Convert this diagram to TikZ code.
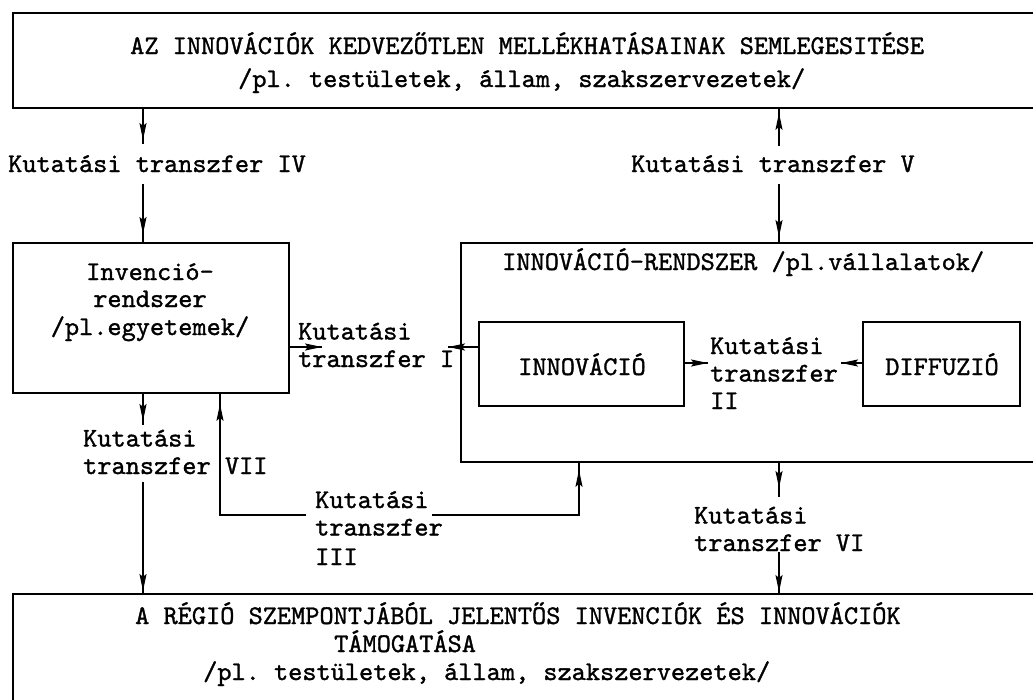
\documentclass[tikz,border=0pt]{standalone}
\usepackage{fontspec}
\setmonofont{lmmono10-regular}[Extension=.otf, FakeBold=1.2]
\usetikzlibrary{arrows.meta,decorations.markings}
\newcommand\fsz{\ttfamily\fontsize{27}{27.5}\selectfont}
\tikzset{
  box/.style={draw, line width=1.8pt, rectangle, inner sep=0pt, anchor=north west},
  txt/.style={font=\fsz, inner sep=0pt, anchor=base west, align=left},
  ctxt/.style={font=\fsz, inner sep=0pt, anchor=base},
  conn/.style={line width=1.8pt},
  mk/.style={postaction={decorate}, decoration={markings,
      mark=at position #1 with {\arrow{Stealth[length=17pt,width=7pt,inset=3pt]}}}},
}
\begin{document}
\begin{tikzpicture}[x=1pt,y=-1pt]
\useasboundingbox (0,0) rectangle (1033,699);
\clip (0,0) rectangle (1033,699);
\fill[white] (0,0) rectangle (1033,699);

% boxes
\node[box, minimum width=1040pt, minimum height=95pt] (top) at (12,12) {};
\node[box, minimum width=276pt, minimum height=150pt] (inv) at (12,242) {};
\node[box, minimum width=600pt, minimum height=219pt] (isys) at (460,242) {};
\node[box, minimum width=205pt, minimum height=84pt] (innov) at (478,321) {};
\node[box, minimum width=157pt, minimum height=84pt] (diff) at (862,321) {};
\node[box, minimum width=1040pt, minimum height=130pt] (bot) at (12,593) {};

% box texts
\node[txt] (topA) at (130,54) {AZ INNOVÁCIÓK KEDVEZŐTLEN MELLÉKHATÁSAINAK SEMLEGESITÉSE};
\node[txt] (topB) at (238,87) {/pl. testületek, állam, szakszervezetek/};
\node[ctxt] (invA) at (150,280) {Invenció-};
\node[ctxt] (invB) at (150,307) {rendszer};
\node[ctxt] (invC) at (150,335) {/pl.egyetemek/};
\node[txt] (isysT) at (502,270) {INNOVÁCIÓ-RENDSZER /pl.vállalatok/};
\node[ctxt] (innovT) at (582,375) {INNOVÁCIÓ};
\node[ctxt] (diffT) at (942,375) {DIFFUZIÓ};
\node[txt] (botA) at (135,624) {A RÉGIÓ SZEMPONTJÁBÓL JELENTŐS INVENCIÓK ÉS INNOVÁCIÓK};
\node[txt] (botB) at (334,652) {TÁMOGATÁSA};
\node[txt] (botC) at (203,680) {/pl. testületek, állam, szakszervezetek/};

% connector labels (base = baseline of the last line)
\node[txt] (l4) at (8,172) {Kutatási transzfer IV};
\node[txt] (l5) at (631,172) {Kutatási transzfer V};
\node[txt] (l1) at (298,367) {Kutatási\\transzfer I};
\node[txt] (l2) at (710,409) {Kutatási\\transzfer\\II};
\node[txt] (l7) at (83,474) {Kutatási\\transzfer VII};
\node[txt] (l3) at (315,565) {Kutatási\\transzfer\\[2pt]III};
\node[txt] (l6) at (694,551) {Kutatási\\transzfer VI};

% free ends
\coordinate (iv1) at (143,144);
\coordinate (iv2) at (143,184);
\coordinate (v1) at (779,146);
\coordinate (v2) at (779,184);
\coordinate (i1) at (322,347);
\coordinate (i2) at (448,347);
\coordinate (ii1) at (708,363);
\coordinate (ii2) at (841,363);
\coordinate (vii1) at (143,425);
\coordinate (vii2) at (143,482);
\coordinate (iii1) at (306,515);
\coordinate (iii2) at (432,515);
\coordinate (iiiL) at (220,515);
\coordinate (iiiR) at (579,515);
\coordinate (vi1) at (779,497);
\coordinate (vi2) at (779,552);

% connectors
\draw[conn, mk=-4pt] (top.south -| iv1) -- (iv1);
\draw[conn, mk=-8pt] (iv2) -- (inv.north -| iv2);
\draw[conn, mk=-4pt] (v1) -- (top.south -| v1);
\draw[conn, mk=-5pt] (v2) -- (isys.north -| v2);
\draw[conn, mk=1] (inv.east |- i1) -- (i1);
\draw[conn, mk=1] (innov.west |- i2) -- (i2);
\draw[conn, mk=1] (innov.east |- ii1) -- (ii1);
\draw[conn, mk=1] (diff.west |- ii2) -- (ii2);
\draw[conn, mk=-4pt] (inv.south -| vii1) -- (vii1);
\draw[conn, mk=-2pt] (vii2) -- (bot.north -| vii2);
\draw[conn, mk=-10pt] (iii1) -- (iiiL) -- (inv.south -| iiiL);
\draw[conn, mk=-7pt] (iii2) -- (iiiR) -- (isys.south -| iiiR);
\draw[conn, mk=-9pt] (isys.south -| vi1) -- (vi1);
\draw[conn, mk=-1pt] (vi2) -- (bot.north -| vi2);
\end{tikzpicture}
\end{document}
